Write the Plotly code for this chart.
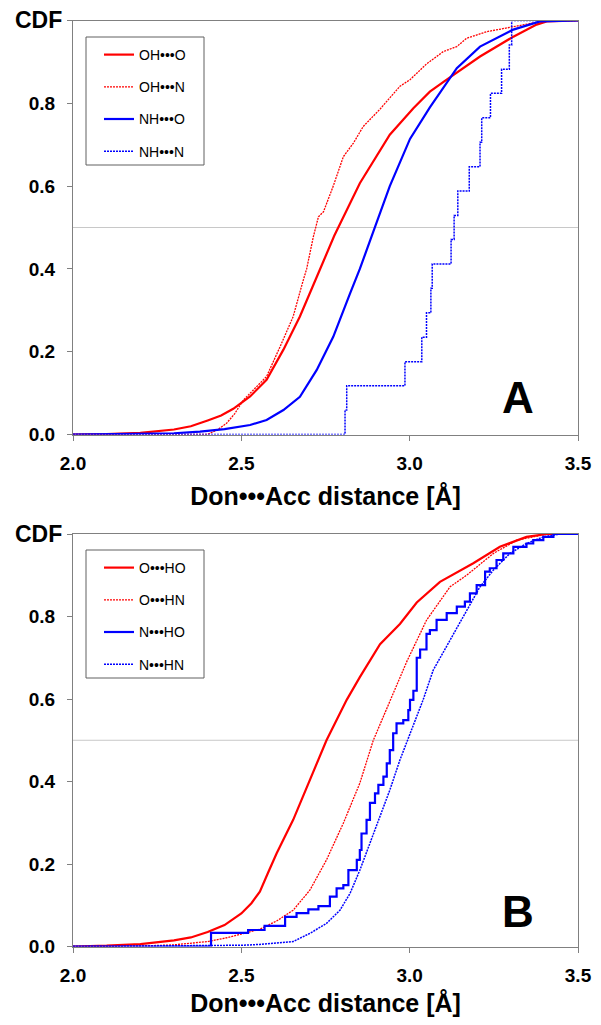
import plotly.graph_objects as go

# ---------------- Panel A data ----------------
a_oho_x = [2.00, 2.10, 2.20, 2.30, 2.35, 2.377, 2.40, 2.44, 2.476, 2.526, 2.575, 2.625, 2.674, 2.729, 2.776,
           2.852, 2.941, 3.011, 3.060, 3.110, 3.209, 3.308, 3.377, 3.407, 3.50]
a_oho_y = [0.000, 0.001, 0.004, 0.012, 0.020, 0.027, 0.034, 0.046, 0.062, 0.092, 0.132, 0.205, 0.285, 0.390, 0.480,
           0.607, 0.724, 0.788, 0.828, 0.857, 0.913, 0.961, 0.990, 0.998, 1.000]

a_ohn_x = [2.00, 2.40, 2.407, 2.43, 2.456, 2.48, 2.506, 2.54, 2.575, 2.615, 2.654, 2.684, 2.694, 2.714,
           2.729, 2.744, 2.773, 2.803, 2.833, 2.862, 2.912, 2.971, 3.001, 3.050, 3.100, 3.140, 3.169,
           3.229, 3.308, 3.367, 3.420, 3.50]
a_ohn_y = [0.000, 0.000, 0.003, 0.012, 0.027, 0.050, 0.083, 0.110, 0.140, 0.212, 0.285, 0.373, 0.400, 0.478,
           0.526, 0.538, 0.600, 0.671, 0.704, 0.744, 0.786, 0.841, 0.857, 0.895, 0.925, 0.937, 0.957,
           0.973, 0.985, 0.994, 1.000, 1.000]

a_nho_x = [2.00, 2.20, 2.30, 2.377, 2.45, 2.526, 2.575, 2.625, 2.674, 2.724, 2.773, 2.823, 2.852, 2.892,
           2.941, 3.001, 3.060, 3.140, 3.209, 3.308, 3.387, 3.50]
a_nho_y = [0.000, 0.001, 0.003, 0.007, 0.013, 0.023, 0.035, 0.059, 0.091, 0.156, 0.236, 0.341, 0.400, 0.490,
           0.600, 0.714, 0.790, 0.885, 0.937, 0.978, 0.998, 1.000]

# NH...N: 17 observations (empirical CDF steps)
a_nhn_x = [2.00, 2.808, 2.813, 2.986, 3.036, 3.050, 3.063, 3.067, 3.123, 3.132, 3.143, 3.177, 3.209,
           3.214, 3.240, 3.273, 3.296, 3.303, 3.50]
a_nhn_y = [0.000, 0.059, 0.118, 0.176, 0.235, 0.294, 0.353, 0.412, 0.471, 0.529, 0.588, 0.647, 0.706,
           0.765, 0.824, 0.882, 0.941, 1.000, 1.000]

# ---------------- Panel B data ----------------
b_oho_x = [2.00, 2.10, 2.20, 2.30, 2.35, 2.40, 2.45, 2.50, 2.53, 2.555, 2.58, 2.605, 2.654, 2.704, 2.753, 2.813,
           2.852, 2.912, 2.971, 3.021, 3.090, 3.189, 3.268, 3.347, 3.407, 3.50]
b_oho_y = [0.000, 0.002, 0.006, 0.015, 0.022, 0.035, 0.052, 0.080, 0.105, 0.133, 0.180, 0.226, 0.307, 0.404, 0.500,
           0.598, 0.653, 0.733, 0.782, 0.834, 0.884, 0.929, 0.969, 0.993, 1.000, 1.000]

b_ohn_x = [2.00, 2.20, 2.30, 2.40, 2.45, 2.50, 2.555, 2.605, 2.654, 2.704, 2.753, 2.803, 2.852, 2.892,
           2.941, 2.991, 3.050, 3.120, 3.169, 3.249, 3.318, 3.410, 3.50]
b_ohn_y = [0.000, 0.001, 0.004, 0.012, 0.020, 0.030, 0.042, 0.062, 0.088, 0.137, 0.210, 0.299, 0.396, 0.500,
           0.596, 0.690, 0.791, 0.872, 0.900, 0.953, 0.985, 1.000, 1.000]

b_nho_x = [2.00, 2.41, 2.52, 2.569, 2.630, 2.664, 2.699, 2.729, 2.763, 2.783, 2.803, 2.818, 2.843, 2.852,
           2.857, 2.872, 2.882, 2.897, 2.907, 2.922, 2.932, 2.941, 2.951, 2.961, 2.981, 2.996, 3.001,
           3.011, 3.021, 3.031, 3.050, 3.060, 3.080, 3.110, 3.140, 3.164, 3.179, 3.199, 3.224, 3.238,
           3.258, 3.278, 3.308, 3.347, 3.367, 3.397, 3.427, 3.50]
b_nho_y = [0.000, 0.033, 0.040, 0.050, 0.072, 0.081, 0.090, 0.098, 0.121, 0.141, 0.149, 0.185, 0.210, 0.234,
           0.274, 0.307, 0.348, 0.371, 0.392, 0.412, 0.444, 0.476, 0.517, 0.541, 0.549, 0.573, 0.598,
           0.620, 0.700, 0.720, 0.758, 0.767, 0.792, 0.808, 0.824, 0.836, 0.856, 0.876, 0.909, 0.917,
           0.937, 0.953, 0.969, 0.977, 0.985, 0.993, 1.000, 1.000]

b_nhn_x = [2.00, 2.40, 2.50, 2.555, 2.654, 2.704, 2.753, 2.793, 2.823, 2.852, 2.882, 2.912, 2.941, 2.971,
           3.001, 3.040, 3.070, 3.120, 3.169, 3.209, 3.249, 3.298, 3.347, 3.397, 3.447, 3.50]
b_nhn_y = [0.000, 0.001, 0.003, 0.005, 0.012, 0.032, 0.056, 0.088, 0.129, 0.185, 0.250, 0.315, 0.379, 0.452,
           0.517, 0.598, 0.670, 0.742, 0.815, 0.872, 0.913, 0.953, 0.977, 0.993, 1.000, 1.000]

# ---------------- labels ----------------
a_names = ["OH\u2022\u2022\u2022O", "OH\u2022\u2022\u2022N", "NH\u2022\u2022\u2022O", "NH\u2022\u2022\u2022N"]
b_names = ["O\u2022\u2022\u2022HO", "O\u2022\u2022\u2022HN", "N\u2022\u2022\u2022HO", "N\u2022\u2022\u2022HN"]
x_tickvals = [2.0, 2.5, 3.0, 3.5]
y_tickvals = [0.0, 0.2, 0.4, 0.6, 0.8, 1.0]
y_ticktext = ["0.0", "0.2", "0.4", "0.6", "0.8", ""]
x_title = "Don\u2022\u2022\u2022Acc distance [\u00c5]"

RED = "#FF0000"
BLUE = "#0000FF"
OFF = 8                      # page body margin
W, H = 601 - 2 * OFF, 1025 - 2 * OFF
FONT = "Liberation Sans, Arial, sans-serif"

# screen-pixel geometry
PX_L, PX_R = 73, 578
A_TOP, A_BOT = 20.5, 434.5
B_TOP, B_BOT = 534.0, 946.5


def fx(s):
    return (s - OFF) / W


def fy(s):
    return 1 - (s - OFF) / H


fig = go.Figure()

styles = [
    dict(color=RED, width=2.2),
    dict(color=RED, width=1.3, dash="2px,1px"),
    dict(color=BLUE, width=2.2),
    dict(color=BLUE, width=1.5, dash="2px,1px"),
]

a_data = [(a_oho_x, a_oho_y, "linear"), (a_ohn_x, a_ohn_y, "linear"),
          (a_nho_x, a_nho_y, "linear"), (a_nhn_x, a_nhn_y, "hv")]
b_data = [(b_oho_x, b_oho_y, "linear"), (b_ohn_x, b_ohn_y, "linear"),
          (b_nho_x, b_nho_y, "hv"), (b_nhn_x, b_nhn_y, "linear")]

for i, ((xs, ys, shp), name) in enumerate(zip(a_data, a_names)):
    fig.add_trace(go.Scatter(x=xs, y=ys, mode="lines", name=name, line=dict(shape=shp, **styles[i]),
                             xaxis="x", yaxis="y", legend="legend", legendgroup="a%d" % i))
for i, ((xs, ys, shp), name) in enumerate(zip(b_data, b_names)):
    fig.add_trace(go.Scatter(x=xs, y=ys, mode="lines", name=name, line=dict(shape=shp, **styles[i]),
                             xaxis="x2", yaxis="y2", legend="legend2", legendgroup="b%d" % i))

tickfont = dict(family=FONT, size=19, color="black", weight="bold")
titlefont = dict(family=FONT, size=25, color="black", weight="bold")
axis_common = dict(showline=True, linecolor="#808080", linewidth=1, mirror=True, ticks="outside",
                   ticklen=5, tickcolor="#808080", showgrid=False, zeroline=False, tickfont=tickfont,
                   automargin=False)

xdom = [fx(PX_L), fx(PX_R)]
legend_common = dict(xanchor="left", yanchor="top", bgcolor="rgba(0,0,0,0)", borderwidth=0,
                     traceorder="grouped", tracegroupgap=11, itemwidth=30,
                     font=dict(family=FONT, size=14, color="black"))
fig.update_layout(
    width=W, height=H, autosize=False,
    margin=dict(l=0, r=0, t=0, b=0),
    paper_bgcolor="white", plot_bgcolor="white",
    xaxis=dict(domain=xdom, anchor="y", range=[2, 3.5], tickvals=x_tickvals,
               ticktext=["%.1f" % v for v in x_tickvals], ticklabelstandoff=7,
               title=dict(text=x_title, font=titlefont, standoff=14), **axis_common),
    yaxis=dict(domain=[fy(A_BOT), fy(A_TOP)], anchor="x", range=[0, 1], tickvals=y_tickvals,
               ticktext=y_ticktext, ticklabelstandoff=8, **axis_common),
    xaxis2=dict(domain=xdom, anchor="y2", range=[2, 3.5], tickvals=x_tickvals,
                ticktext=["%.1f" % v for v in x_tickvals], ticklabelstandoff=7,
                title=dict(text=x_title, font=titlefont, standoff=14), **axis_common),
    yaxis2=dict(domain=[fy(B_BOT), fy(B_TOP)], anchor="x2", range=[0, 1], tickvals=y_tickvals,
                ticktext=y_ticktext, ticklabelstandoff=8, **axis_common),
    showlegend=True,
    legend=dict(x=fx(99), y=fy(39), **legend_common),
    legend2=dict(x=fx(99), y=fy(552), **legend_common),
)

# 0.5 reference lines
for yr in ["y", "y2"]:
    xr = "x" if yr == "y" else "x2"
    fig.add_shape(type="line", xref=xr + " domain", yref=yr, x0=0, x1=1, y0=0.5, y1=0.5,
                  line=dict(color="#C8C8C8", width=1), layer="below")

# legend frames
for top, bot in [(37, 165), (550, 678)]:
    fig.add_shape(type="rect", xref="paper", yref="paper", x0=fx(86), x1=fx(204), y0=fy(bot), y1=fy(top),
                  line=dict(color="#606060", width=1), fillcolor="rgba(0,0,0,0)")

# CDF labels and panel letters
for top in [A_TOP, B_TOP]:
    fig.add_annotation(text="CDF", xref="paper", yref="paper", x=fx(64), y=fy(top), xanchor="right",
                       yanchor="middle", showarrow=False,
                       font=dict(family=FONT, size=23, color="black", weight="bold"))
for letter, cy in [("A", 397.5), ("B", 911)]:
    fig.add_annotation(text=letter, xref="paper", yref="paper", x=fx(517.5), y=fy(cy), xanchor="center",
                       yanchor="middle", showarrow=False,
                       font=dict(family=FONT, size=44, color="black", weight="bold"))

fig.write_html("out.html")
